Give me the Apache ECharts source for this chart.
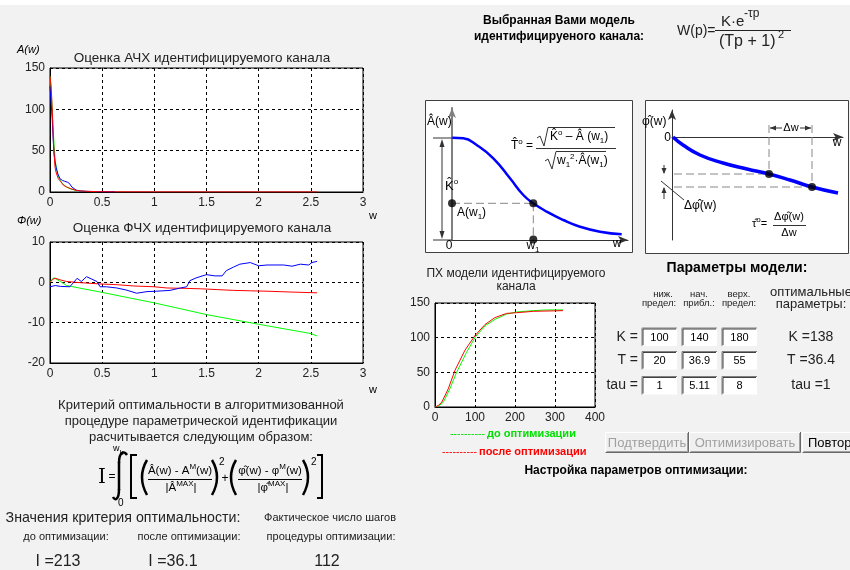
<!DOCTYPE html>
<html><head><meta charset="utf-8">
<script src="https://cdn.jsdelivr.net/npm/echarts@6/dist/echarts.min.js"></script>
<style>html,body{margin:0;padding:0;background:#f2f2f2}#c{width:850px;height:570px}</style>
</head><body><div id="c"></div>
<script>
// ---------- DATA ----------
// Оценка АЧХ (A(w))
const awGreenW = [0, 0.008, 0.016, 0.024, 0.032, 0.04, 0.05, 0.065, 0.08, 0.1, 0.12, 0.16, 0.2, 0.25, 0.3, 0.38, 0.45];
const awGreenA = [140, 130, 112, 92, 72, 55, 38, 26, 19, 14, 10, 6, 3.5, 2, 1, 0.5, 0.3];
const awBlueW = [0, 0.01, 0.022, 0.03, 0.038, 0.048, 0.058, 0.075, 0.096, 0.12, 0.14, 0.165, 0.185, 0.2, 0.21, 0.22, 0.25, 0.29, 0.35, 0.48, 0.62];
const awBlueA = [128, 110, 87, 65, 47, 37, 30, 22, 16, 14, 13, 12, 10.5, 8.5, 6, 4, 2.3, 1.2, 0.8, 0.4, 0.3];
const awRedW = [0, 0.01, 0.016, 0.025, 0.032, 0.04, 0.048, 0.06, 0.08, 0.1, 0.13, 0.16, 0.2, 0.25, 0.3, 0.35, 0.45, 0.6, 1.0, 1.5, 2.0, 2.56];
const awRedA = [140, 128, 115, 88, 63, 45, 30, 23, 16, 13, 8, 6, 4, 2, 1.2, 0.8, 0.4, 0.2, 0.1, 0.05, 0.03, 0.02];
// Оценка ФЧХ (Φ(w))
const phBlueW = [0, 0.05, 0.1, 0.19, 0.26, 0.3, 0.35, 0.4, 0.45, 0.48, 0.54, 0.64, 0.73, 0.83, 0.93, 1.02, 1.15, 1.25, 1.31, 1.34, 1.4, 1.5, 1.58, 1.65, 1.69, 1.76, 1.82, 1.92, 2.0, 2.08, 2.24, 2.32, 2.4, 2.48, 2.51, 2.56];
const phBlueV = [-1.1, -0.8, -1.0, -1.1, 1.0, 0.2, 1.4, 0.8, 0.2, -1.1, -1.1, -1.4, -1.9, -2.7, -2.3, -2.2, -2.0, -1.4, -1.1, 0.4, 1.1, 1.9, 1.6, 1.6, 2.9, 3.8, 4.5, 4.9, 4.1, 4.3, 4.3, 4.0, 4.5, 4.3, 4.9, 5.2];
const phRedW = [0, 0.03, 0.05, 0.1, 0.16, 0.3, 0.48, 0.65, 0.8, 1.0, 1.12, 1.3, 1.44, 1.6, 1.76, 1.92, 2.08, 2.3, 2.56];
const phRedV = [0, 0.8, 1.0, 0.6, 0.2, -0.1, -0.4, -0.6, -0.9, -1.1, -1.4, -1.5, -1.6, -1.8, -2.0, -2.1, -2.2, -2.4, -2.6];
const phGreenW = [0, 0.02, 0.04, 0.1, 0.16, 0.5, 1.0, 1.5, 2.0, 2.5, 2.56];
const phGreenV = [0, 0.8, 1.1, 0.2, -0.8, -2.5, -5.1, -8.0, -10.4, -12.7, -13.3];
// ПХ модели
const stepGreenT = [0, 8, 21, 37, 54, 79, 102, 127, 152, 179, 204, 246, 279, 320];
const stepGreenY = [0, 1, 7, 26, 50, 79, 102, 118, 127, 134, 137, 139, 140, 140];
const stepRedT = [0, 8, 17, 33, 50, 75, 100, 125, 150, 179, 204, 246, 320];
const stepRedY = [0, 2, 7, 26, 53, 82, 103, 119, 129, 135, 136, 138, 139];
// Schematic diagrams (diagram units)
const diagAX = [0.3, 11.3, 24.7, 41.3, 58, 71.3, 81.3, 94.7, 111.3, 128, 148, 169.7];
const diagAY = [102.3, 101.7, 95, 81.7, 61.7, 45, 36.7, 28.3, 20, 13.3, 8.3, 5.7];
const diagADots = [[81.3, 36.7], [0, 36.7], [81.3, 0.5]];
const diagADash = [[[0, 36.7], [81.3, 36.7]], [[81.3, 36.7], [81.3, 0]]];
const diagPX = [1, 11, 28, 51, 75, 97, 118, 140, 166];
const diagPY = [0, -8, -18, -26, -32, -37, -43, -50, -56];
const diagPDots = [[97, -37], [140, -50]];
const diagPDash = [[[-10, -37], [97, -37]], [[-10, -50], [140, -50]], [[97, 12], [97, -37]], [[140, 12], [140, -50]]];
// Parameters
const paramNames = ['K =', 'T =', 'tau ='];
const paramLow = ['100', '20', '1'];
const paramInit = ['140', '36.9', '5.11'];
const paramHigh = ['180', '55', '8'];
const paramOpt = ['K =138', 'T =36.4', 'tau =1'];
const critBefore = 'I =213', critAfter = 'I =36.1', stepsCount = '112';

// ---------- BUILD ----------
const FONT = '"Liberation Sans", Arial, sans-serif';
const zip = (a, b) => a.map((v, i) => [v, b[i]]);
const RS = {
  s: {fontSize: 8, lineHeight: 16, verticalAlign: 'top', fontFamily: FONT},
  b: {fontSize: 8, lineHeight: 16, verticalAlign: 'bottom', fontFamily: FONT}
};
function tx(x, y, s, size, o) {
  o = o || {};
  const a = o.a || 'left';
  const st = {x: x, y: y, text: s, fill: o.c || '#000',
    font: (o.it ? 'italic ' : '') + (o.b ? 'bold ' : '') + size + 'px ' + (o.ff || FONT),
    align: a, textAlign: a, verticalAlign: 'middle', textVerticalAlign: 'middle'};
  if (o.rich) st.rich = RS;
  return {type: 'text', z: 100, silent: true, style: st};
}
function ln(x1, y1, x2, y2, c, w, dash) {
  const st = {stroke: c || '#000', lineWidth: w || 1};
  if (dash) st.lineDash = dash;
  return {type: 'line', z: 20, silent: true, shape: {x1, y1, x2, y2}, style: st};
}
function pl(pts, c, w) { return {type: 'polyline', z: 20, silent: true, shape: {points: pts}, style: {stroke: c || '#000', lineWidth: w || 1, fill: null}}; }
function pg(pts, c) { return {type: 'polygon', z: 20, silent: true, shape: {points: pts}, style: {fill: c || '#000'}}; }
function rc(x, y, w, h, fill, stroke, z) { return {type: 'rect', z: z || 1, silent: true, shape: {x, y, width: w, height: h}, style: {fill: fill, stroke: stroke || null, lineWidth: 1}}; }
function bz(x1, y1, cx1, cy1, cx2, cy2, x2, y2, c, w) {
  const sh = {x1, y1, x2, y2, cpx1: cx1, cpy1: cy1};
  if (cx2 !== null) { sh.cpx2 = cx2; sh.cpy2 = cy2; }
  return {type: 'bezierCurve', z: 20, silent: true, shape: sh, style: {stroke: c || '#000', lineWidth: w || 1, fill: null}};
}

function chartAx(gi, min, max, interval) {
  return {type: 'value', gridIndex: gi, min, max, interval,
    axisLine: {show: true, onZero: false, lineStyle: {color: '#000', width: 1}},
    axisTick: {show: false},
    axisLabel: {color: '#222', fontSize: 12, margin: 5, fontFamily: FONT, showMinLabel: true, showMaxLabel: true},
    splitLine: {show: true, lineStyle: {color: '#000', type: [3, 3], width: 1}}};
}
function diagAx(gi, min, max, color, w) {
  return {type: 'value', gridIndex: gi, min, max, z: 5,
    axisLine: {show: true, onZero: true, symbol: ['none', 'arrow'], symbolSize: [6, 10], lineStyle: {color, width: w}},
    axisTick: {show: false}, axisLabel: {show: false}, splitLine: {show: false}};
}
function lineS(gi, data, color, width, extra) {
  return Object.assign({type: 'line', xAxisIndex: gi, yAxisIndex: gi, data, symbol: 'none', showSymbol: false,
    lineStyle: {color, width}, itemStyle: {color}, silent: true}, extra || {});
}
const gridBox = {show: true, backgroundColor: '#fff', borderColor: '#000', borderWidth: 1};

const series = [
  lineS(0, zip(awGreenW, awGreenA), '#00ff00', 1),
  lineS(0, zip(awBlueW, awBlueA), '#0000ff', 1),
  lineS(0, zip(awRedW, awRedA), '#ff0000', 1),
  lineS(1, zip(phGreenW, phGreenV), '#00ff00', 1),
  lineS(1, zip(phRedW, phRedV), '#ff0000', 1),
  lineS(1, zip(phBlueW, phBlueV), '#0000ff', 1),
  lineS(2, zip(stepGreenT, stepGreenY), '#00ff00', 1),
  lineS(2, zip(stepRedT, stepRedY), '#ff0000', 1),
  lineS(3, zip(diagAX, diagAY), '#0000ff', 2.5, {smooth: true, z: 10, clip: false}),
  lineS(4, zip(diagPX, diagPY), '#0000ff', 3.5, {smooth: true, z: 10, clip: false})
];
diagADash.forEach(seg => series.push(lineS(3, seg, '#888', 1, {z: 9, clip: false, lineStyle: {color: '#888', width: 1, type: [8, 4]}})));
diagPDash.forEach(seg => series.push(lineS(4, seg, '#888', 1, {z: 9, clip: false, lineStyle: {color: '#888', width: 1, type: [8, 4]}})));
series.push({type: 'scatter', xAxisIndex: 3, yAxisIndex: 3, data: diagADots, symbolSize: 8, itemStyle: {color: '#000'}, z: 11, clip: false, silent: true});
series.push({type: 'scatter', xAxisIndex: 4, yAxisIndex: 4, data: diagPDots, symbolSize: 8, itemStyle: {color: '#000'}, z: 11, clip: false, silent: true});

const G = [];
G.push(rc(0, 0, 850, 5, '#fff', null, 0));
// left panel texts
G.push(tx(17, 50, 'A(w)', 11, {it: true}));
G.push(tx(202, 58, 'Оценка АЧХ идентифицируемого канала', 13.5, {a: 'center', c: '#222'}));
G.push(tx(373, 216, 'w', 11, {a: 'center'}));
G.push(tx(17, 221, 'Φ(w)', 11, {it: true}));
G.push(tx(202, 228, 'Оценка ФЧХ идентифицируемого канала', 13.5, {a: 'center', c: '#222'}));
G.push(tx(373, 390, 'w', 11, {a: 'center'}));
G.push(tx(201, 405, 'Критерий оптимальности в алгоритмизованной', 13, {a: 'center', c: '#222'}));
G.push(tx(201, 421, 'процедуре параметрической идентификации', 13, {a: 'center', c: '#222'}));
G.push(tx(201, 437, 'расчитывается следующим образом:', 13, {a: 'center', c: '#222'}));
// integral formula
G.push(tx(102, 478, 'I', 20, {a: 'center', ff: '"DejaVu Serif", serif'}));
G.push(tx(112, 477, '=', 12, {a: 'center'}));
G.push(bz(127, 455, 124, 450, 119, 452, 119, 463, '#000', 2.5));
G.push(ln(119, 462, 119, 490, '#000', 2.5));
G.push(bz(119, 489, 119, 500, 115, 501, 113, 497, '#000', 2.5));
G.push(tx(113, 449, 'w{b|k}', 9, {rich: true}));
G.push(tx(118, 503, '0', 10));
G.push(pl([[137, 455], [131, 455], [131, 498], [137, 498]], '#000', 2));
G.push(pl([[317, 455], [322, 455], [322, 498], [317, 498]], '#000', 2));
G.push(bz(147, 460, 137, 477, null, null, 147, 495, '#000', 2.5));
G.push(bz(212, 460, 222, 477, null, null, 212, 495, '#000', 2.5));
G.push(bz(236, 460, 226, 477, null, null, 236, 495, '#000', 2.5));
G.push(bz(303, 460, 313, 477, null, null, 303, 495, '#000', 2.5));
G.push(tx(180, 471, 'Â(w) - A{s|M}(w)', 11.5, {a: 'center', rich: true}));
G.push(ln(148, 479.5, 212, 479.5, '#000', 1));
G.push(tx(181, 488, '|Â{s|MAX}|', 11.5, {a: 'center', rich: true}));
G.push(tx(219, 462, '2', 10));
G.push(tx(225, 479, '+', 12, {a: 'center'}));
G.push(tx(270, 471, 'φ\u0302(w) - φ{s|M}(w)', 11.5, {a: 'center', rich: true}));
G.push(ln(238, 479.5, 302, 479.5, '#000', 1));
G.push(tx(273, 488, '|φ\u0302{s|MAX}|', 11.5, {a: 'center', rich: true}));
G.push(tx(311, 462, '2', 10));
// criterion values
G.push(tx(123, 518, 'Значения критерия оптимальности:', 14.2, {a: 'center', c: '#222'}));
G.push(tx(330, 518, 'Фактическое число шагов', 11, {a: 'center', c: '#222'}));
G.push(tx(66, 537, 'до оптимизации:', 11, {a: 'center', c: '#222'}));
G.push(tx(189, 537, 'после оптимизации:', 11, {a: 'center', c: '#222'}));
G.push(tx(331, 537, 'процедуры оптимизации:', 11, {a: 'center', c: '#222'}));
G.push(tx(58, 562, critBefore, 16, {a: 'center', c: '#222'}));
G.push(tx(173, 562, critAfter, 16, {a: 'center', c: '#222'}));
G.push(tx(327, 562, stepsCount, 16, {a: 'center', c: '#222'}));
// top model
G.push(tx(559, 21, 'Выбранная Вами модель', 12, {a: 'center', b: true}));
G.push(tx(559, 37, 'идентифицируеного канала:', 12, {a: 'center', b: true}));
G.push(tx(677, 31, 'W(p)=', 14, {c: '#222'}));
G.push(tx(721, 22, 'K·e', 15, {c: '#222'}));
G.push(tx(744, 14, '-τp', 12, {c: '#222'}));
G.push(ln(715, 30.5, 791, 30.5, '#222', 1));
G.push(tx(719, 42, '(Tp + 1)', 16, {c: '#222'}));
G.push(tx(778, 35, '2', 11, {c: '#222'}));
// diagram frames
G.push(rc(425.5, 100.5, 207, 152, '#fff', '#404040', 1));
G.push(rc(645.5, 100.5, 203, 153, '#fff', '#404040', 1));
// left diagram annotations
G.push(tx(427, 122, 'Â(w)', 12));
G.push(ln(433, 138, 452, 138, '#333', 1));
G.push(ln(433, 240, 452, 240, '#333', 1));
G.push(ln(442, 142, 442, 236, '#333', 1));
G.push(pg([[439.5, 147], [442, 139], [444.5, 147]], '#333'));
G.push(pg([[439.5, 231], [442, 239], [444.5, 231]], '#333'));
G.push(tx(445, 186, 'K\u0302{s|o}', 13, {rich: true}));
G.push(tx(457, 213, 'A(w{b|1})', 12, {rich: true}));
G.push(tx(449, 246, '0', 12, {a: 'center'}));
G.push(tx(533, 246, 'w{b|1}', 12, {a: 'center', rich: true}));
G.push(tx(617, 244, 'w', 12, {a: 'center'}));
G.push(tx(511, 146, 'T\u0302{s|o} =', 12, {rich: true}));
G.push(pl([[537, 138], [540, 136], [544, 146], [548, 127.5], [615, 127.5]], '#333', 1));
G.push(tx(550, 137, 'K\u0302{s|o} – Â (w{b|1})', 12, {rich: true}));
G.push(ln(536, 148.5, 616, 148.5, '#333', 1));
G.push(pl([[545, 161], [548, 159], [552, 169], [556, 151.5], [606, 151.5]], '#333', 1));
G.push(tx(557, 161, 'w{b|1}{s|2}·Â(w{b|1})', 12, {rich: true}));
// right diagram annotations
G.push(tx(642, 122, 'φ\u0302(w)', 12));
G.push(tx(671, 138, '0', 12, {a: 'right'}));
G.push(tx(837, 143, 'w', 12, {a: 'center'}));
G.push(tx(791, 128, 'Δw', 11, {a: 'center'}));
G.push(ln(770, 128, 782, 128, '#333', 1));
G.push(pg([[776, 125.5], [770, 128], [776, 130.5]], '#333'));
G.push(ln(800, 128, 811, 128, '#333', 1));
G.push(pg([[805, 125.5], [811, 128], [805, 130.5]], '#333'));
G.push(ln(664, 165, 664, 173, '#333', 1));
G.push(pg([[661.5, 168], [664, 174], [666.5, 168]], '#333'));
G.push(ln(664, 188, 664, 199, '#333', 1));
G.push(pg([[661.5, 193], [664, 187], [666.5, 193]], '#333'));
G.push(ln(661, 181, 684, 200, '#333', 1));
G.push(tx(684, 206, 'Δφ\u0302(w)', 12));
G.push(tx(752, 224, 'τ\u0302{s|o}=', 11, {rich: true}));
G.push(tx(789, 217, 'Δφ\u0302(w)', 11, {a: 'center'}));
G.push(ln(773, 225.5, 806, 225.5, '#333', 1));
G.push(tx(789, 233, 'Δw', 11, {a: 'center'}));
// ПХ chart texts
G.push(tx(516, 274, 'ПХ модели идентифицируемого', 12, {a: 'center', c: '#222'}));
G.push(tx(516, 287, 'канала', 12, {a: 'center', c: '#222'}));
G.push(tx(450, 434, '----------', 10.5, {c: '#00e000'}));
G.push(tx(487, 434, 'до оптимизации', 11, {b: true, c: '#00e000'}));
G.push(tx(442, 452, '----------', 10.5, {c: '#ff0000'}));
G.push(tx(479, 452, 'после оптимизации', 11, {b: true, c: '#ff0000'}));
// parameters
G.push(tx(737, 268, 'Параметры модели:', 14, {a: 'center', b: true}));
const colX = [659, 699, 739];
const hdr1 = ['ниж.', 'нач.', 'верх.'], hdr2 = ['предел:', 'прибл.:', 'предел:'];
colX.forEach((x, i) => { G.push(tx(x + (i === 0 ? 4 : 0), 294, hdr1[i], 9.5, {a: 'center', c: '#222'})); G.push(tx(x, 303.5, hdr2[i], 9.5, {a: 'center', c: '#222'})); });
G.push(tx(811, 292, 'оптимальные', 13, {a: 'center', c: '#222'}));
G.push(tx(811, 304, 'параметры:', 13, {a: 'center', c: '#222'}));
const rowY = [328, 351.5, 376.5];
const boxX = [642, 682, 722];
const cols = [paramLow, paramInit, paramHigh];
rowY.forEach((y, r) => {
  G.push(tx(638, y + 9, paramNames[r], 14, {a: 'right', c: '#222'}));
  boxX.forEach((x, c) => {
    G.push(rc(x, y, 35, 18, '#fff', null, 2));
    G.push(pl([[x, y + 18], [x, y], [x + 35, y]], '#808080', 1));
    G.push(pl([[x + 1, y + 17], [x + 1, y + 1], [x + 34, y + 1]], '#404040', 1));
    G.push(tx(x + 17.5, y + 9.5, cols[c][r], 11, {a: 'center'}));
  });
  G.push(tx(811, y + 9, paramOpt[r], 14, {a: 'center', c: '#222'}));
});
// buttons
const btns = [[605, 84, 'Подтвердить', '#a0a0a0'], [689, 112, 'Оптимизировать', '#a0a0a0'], [802, 60, 'Повтор', '#000']];
btns.forEach(b => {
  const x = b[0], w = b[1], y = 432, h = 21;
  G.push(rc(x, y, w, h, '#f0f0f0', null, 2));
  G.push(pl([[x + 0.5, y + h], [x + 0.5, y + 0.5], [x + w, y + 0.5]], '#fff', 1));
  G.push(pl([[x + 0.5, y + h - 0.5], [x + w - 0.5, y + h - 0.5], [x + w - 0.5, y]], '#696969', 1));
  G.push(pl([[x + 1.5, y + h - 1.5], [x + w - 1.5, y + h - 1.5], [x + w - 1.5, y + 1]], '#a0a0a0', 1));
  if (b[2] === 'Повтор') G.push(tx(x + 6, y + 11, b[2], 13, {c: b[3]}));
  else G.push(tx(x + w / 2, y + 11, b[2], 13, {a: 'center', c: b[3]}));
});
G.push(tx(636, 471, 'Настройка параметров оптимизации:', 12, {a: 'center', b: true}));

const option = {
  backgroundColor: '#f2f2f2',
  animation: false,
  textStyle: {fontFamily: FONT},
  grid: [
    Object.assign({left: 50, top: 68, width: 313, height: 124}, gridBox),
    Object.assign({left: 50, top: 242, width: 313, height: 121}, gridBox),
    Object.assign({left: 435, top: 303, width: 160, height: 104}, gridBox),
    {left: 452, top: 108, width: 176, height: 132},
    {left: 672, top: 110, width: 171, height: 130}
  ],
  xAxis: [chartAx(0, 0, 3, 0.5), chartAx(1, 0, 3, 0.5), chartAx(2, 0, 400, 100),
    diagAx(3, 0, 176, '#333', 1), diagAx(4, 0, 171, '#333', 1)],
  yAxis: [chartAx(0, 0, 150, 50), chartAx(1, -20, 10, 10), chartAx(2, 0, 150, 50),
    diagAx(3, 0, 132, '#808080', 2), diagAx(4, -103, 27, '#333', 1)],
  series: series,
  graphic: {elements: G}
};
const chart = echarts.init(document.getElementById('c'), null, {renderer: 'canvas'});
chart.setOption(option);
</script>
</body></html>
